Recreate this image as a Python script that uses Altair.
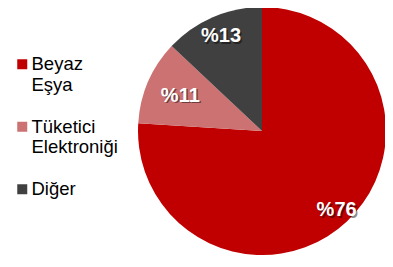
import altair as alt
import pandas as pd

categories = ["Beyaz Eşya", "Tüketici Elektroniği", "Diğer"]
shares = [76, 11, 13]
labels = ["%76", "%11", "%13"]
colors = ["#C00000", "#CD7272", "#404040"]

df = pd.DataFrame({"cat": categories, "val": shares, "lab": labels, "idx": list(range(len(categories)))})

CX, CY, R = 254, 123, 124

base = alt.Chart(df).encode(
    theta=alt.Theta("val:Q", stack=True),
    order=alt.Order("idx:Q"),
)

pie = base.mark_arc(radius=R, stroke=None).encode(
    x=alt.value(CX), y=alt.value(CY),
    color=alt.Color(
        "cat:N",
        scale=alt.Scale(domain=categories, range=colors),
        sort=categories,
        legend=alt.Legend(
            title=None, orient="none", legendX=5, legendY=47, padding=0,
            symbolType="square", symbolSize=100, symbolStrokeWidth=0,
            labelFont="Liberation Sans", labelFontSize=18.5, labelColor="#000000",
            labelExpr="split(datum.label, ' ')", labelBaseline="middle",
            labelOffset=0, rowPadding=22.5, labelLimit=200,
        ),
    ),
)

def lbl(radius, name, dx=0, dy=0, color="white", op=1.0):
    return base.mark_text(
        radius=radius, font="Liberation Sans", fontSize=20, fontWeight="bold",
        dx=dx, dy=dy, color=color,
    ).encode(
        x=alt.value(CX), y=alt.value(CY),
        text="lab:N",
        opacity=alt.condition(f"datum.cat == '{name}'", alt.value(op), alt.value(0)),
    )

radii = {"Beyaz Eşya": 109, "Tüketici Elektroniği": 89, "Diğer": 103}

layers = [pie]
for name, r in radii.items():
    layers.append(lbl(r, name, 1.5, 1.5, "#000000", 0.45))
for name, r in radii.items():
    layers.append(lbl(r, name))

chart = alt.layer(*layers).properties(
    width=377, height=247, autosize=alt.AutoSizeParams(type="none"), padding=0,
).configure_view(stroke=None)

chart.save("out.html", embed_options={"renderer": "svg", "actions": False})
